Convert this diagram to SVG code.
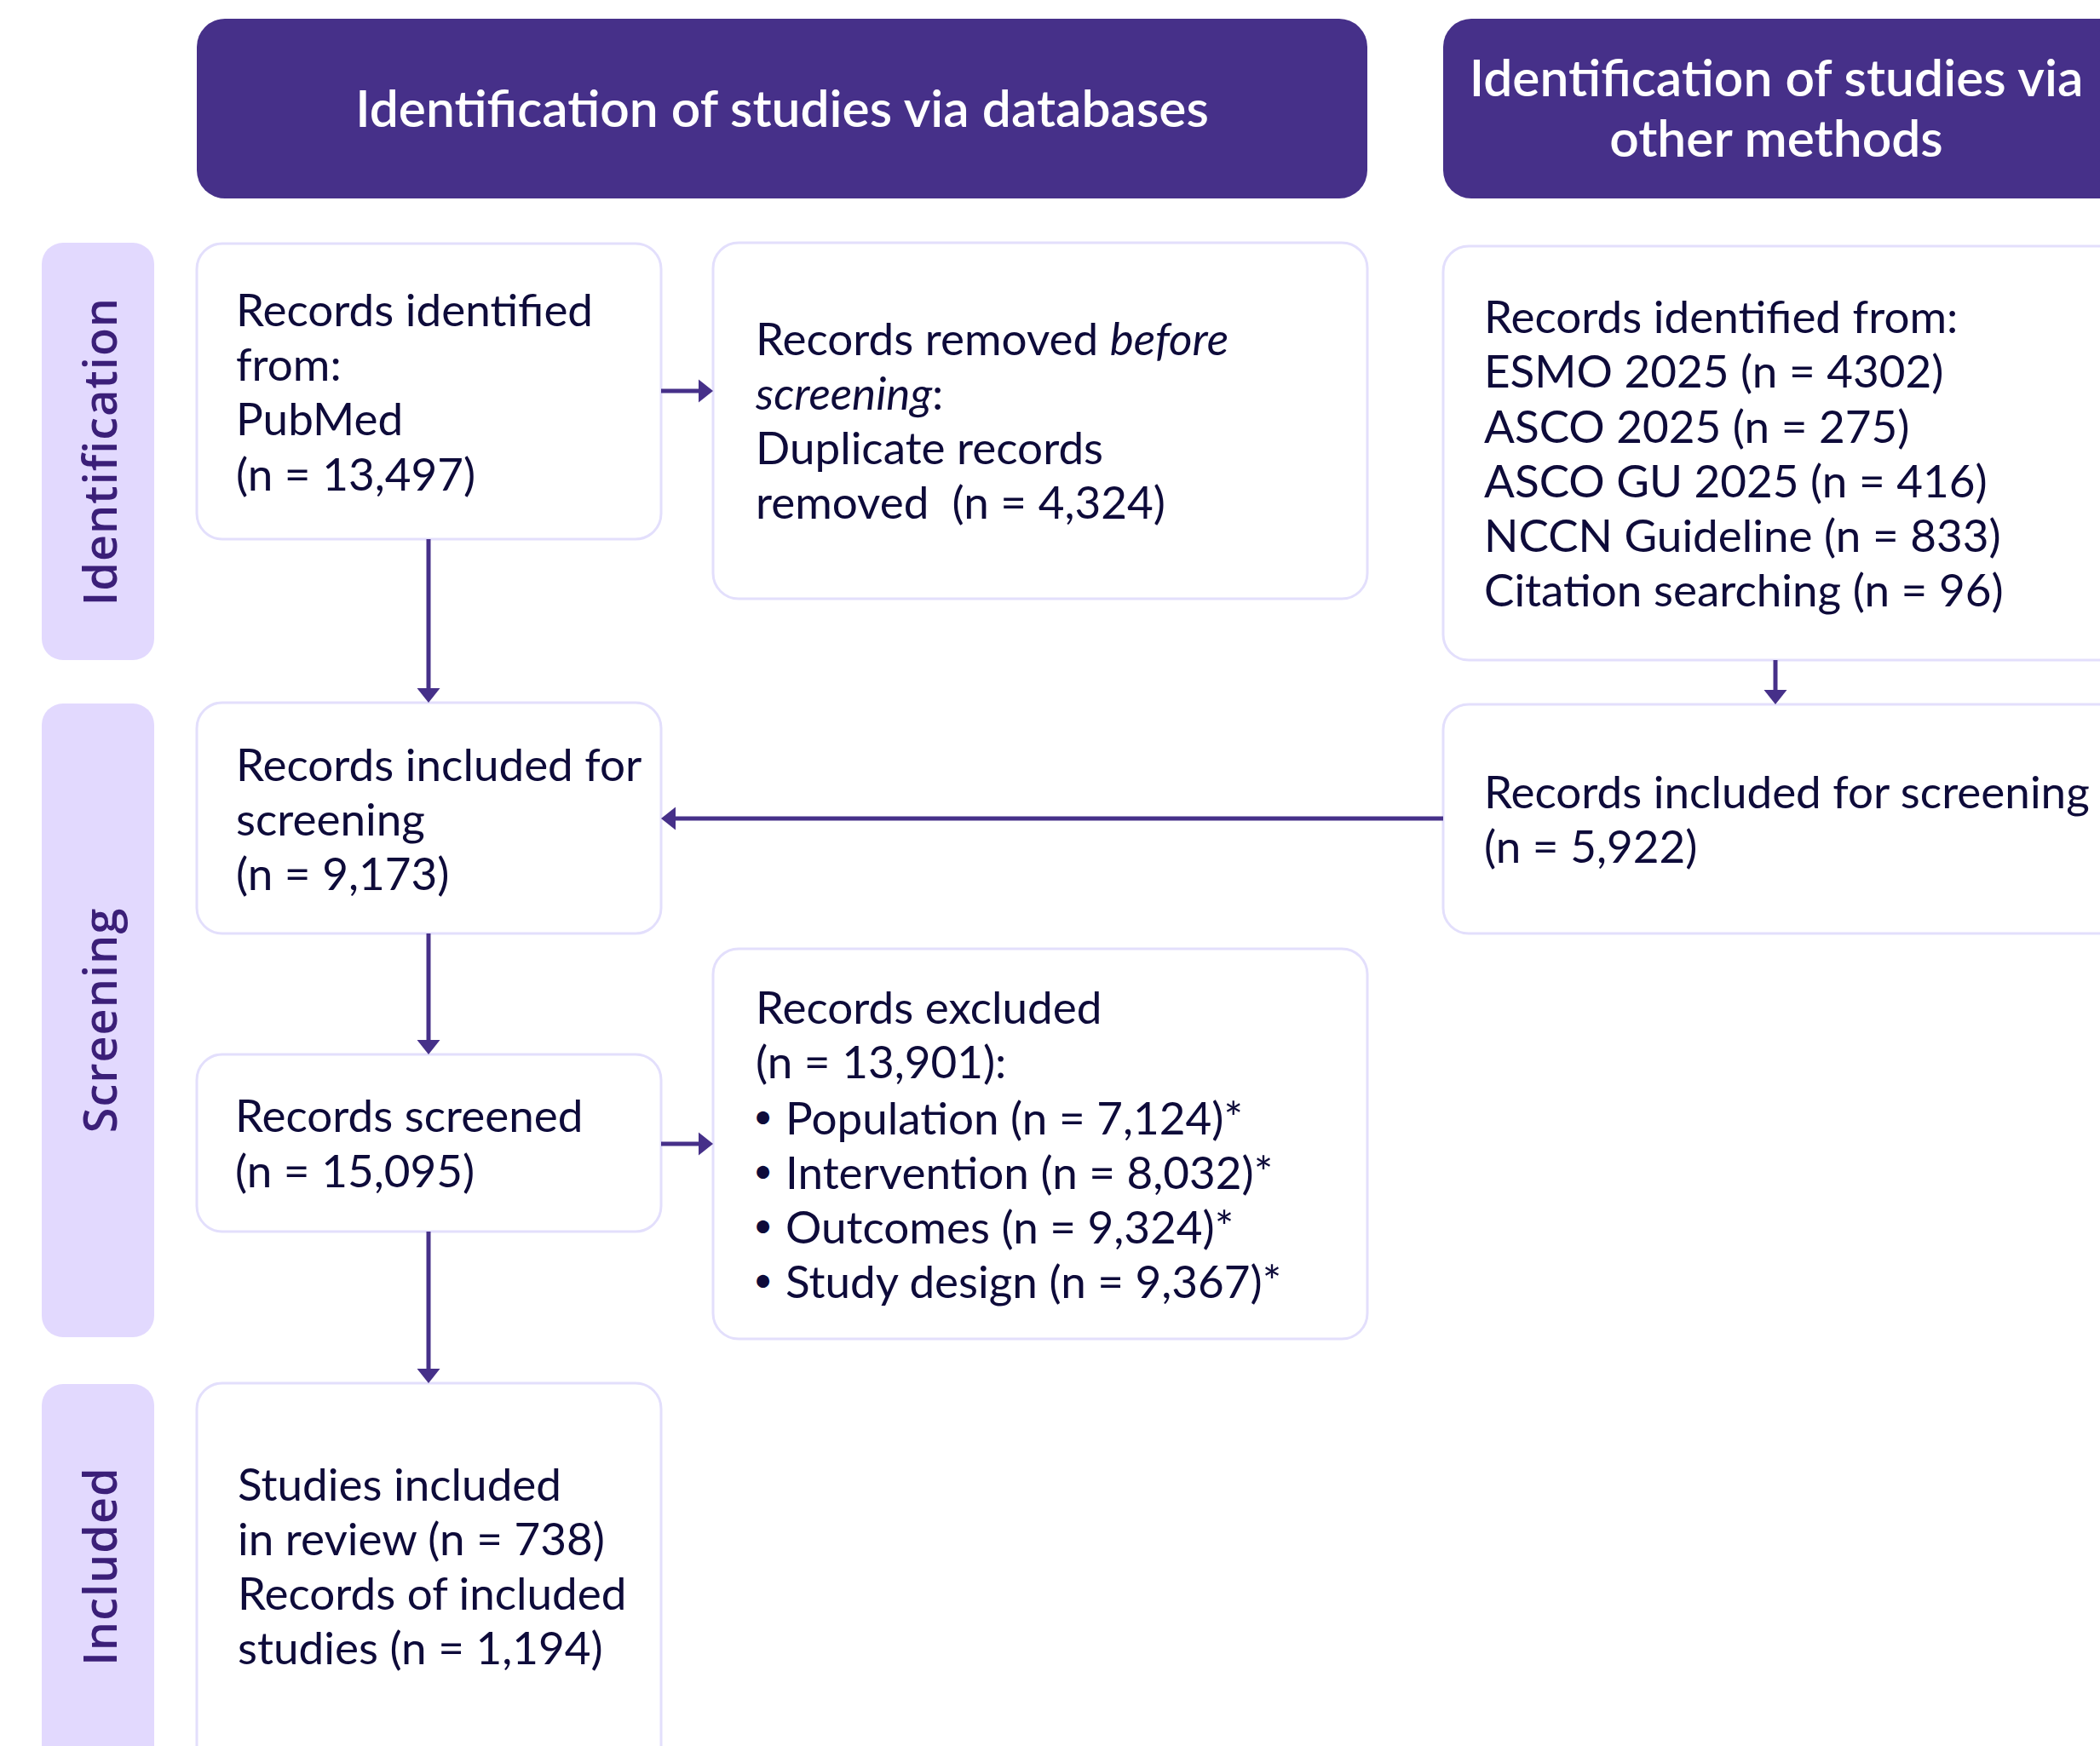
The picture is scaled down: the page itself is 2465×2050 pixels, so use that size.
<svg xmlns="http://www.w3.org/2000/svg" width="2465" height="2050" viewBox="0 0 2465 2050">
  <style>
    .hdr { fill: #463089; }
    .hdrtxt { font-family: "Lato", "Open Sans", sans-serif; font-size: 60.5px; font-weight: 600; fill: #ffffff; text-anchor: middle; }
    .lane { fill: #e2d9fe; }
    .lanetxt { font-family: "Open Sans", "Noto Sans", sans-serif; font-size: 54px; font-weight: 600; fill: #3b1f78; text-anchor: middle; letter-spacing: 1px; }
    .box { fill: #ffffff; stroke: #e3dffc; stroke-width: 3; }
    .txt { font-family: "Lato", "Open Sans", sans-serif; font-size: 53px; fill: #0e0b3a; white-space: pre; }
    .bul { font-size: 40px; }
    .conn { stroke: #463089; stroke-width: 5; fill: none; }
  </style>
  <defs>
    <marker id="ah" markerUnits="userSpaceOnUse" markerWidth="18" markerHeight="28" refX="0" refY="13.5" orient="auto" viewBox="0 0 18 27">
      <path d="M0,0 L17,13.5 L0,27 Z" fill="#463089"/>
    </marker>
  </defs>
  <rect x="0" y="0" width="2465" height="2050" fill="#ffffff"/>

  <g id="header-databases">
    <rect class="hdr" x="231" y="22" width="1374" height="211" rx="33" ry="33"/>
    <text class="hdrtxt" x="918" y="149">Identification of studies via databases</text>
  </g>
  <g id="header-other">
    <rect class="hdr" x="1694" y="22" width="820" height="211" rx="33" ry="33"/>
    <text class="hdrtxt" x="2085" y="113">Identification of studies via</text>
    <text class="hdrtxt" x="2085" y="184">other methods</text>
  </g>

  <g id="lane-identification">
    <rect class="lane" x="49" y="285" width="132" height="490" rx="25" ry="25"/>
    <text class="lanetxt" transform="translate(137,530) rotate(-90)" x="0" y="0">Identification</text>
  </g>
  <g id="lane-screening">
    <rect class="lane" x="49" y="826" width="132" height="744" rx="25" ry="25"/>
    <text class="lanetxt" transform="translate(137,1198) rotate(-90)" x="0" y="0">Screening</text>
  </g>
  <g id="lane-included">
    <rect class="lane" x="49" y="1625" width="132" height="460" rx="25" ry="25"/>
    <text class="lanetxt" transform="translate(137,1839) rotate(-90)" x="0" y="0">Included</text>
  </g>

  <g id="box-pubmed">
    <rect class="box" x="231" y="286" width="545" height="347" rx="30" ry="30"/>
    <text class="txt" x="277" y="383">Records identified</text>
    <text class="txt" x="277" y="447">from:</text>
    <text class="txt" x="277" y="511">PubMed</text>
    <text class="txt" x="277" y="576">(n = 13,497)</text>
  </g>
  <g id="box-removed">
    <rect class="box" x="837" y="285" width="768" height="418" rx="30" ry="30"/>
    <text class="txt" x="887" y="417">Records removed <tspan font-style="italic">before</tspan></text>
    <text class="txt" x="887" y="481"><tspan font-style="italic">screening</tspan>:</text>
    <text class="txt" x="887" y="545">Duplicate records</text>
    <text class="txt" x="887" y="609">removed&#160; (n = 4,324)</text>
  </g>
  <g id="box-other-identified">
    <rect class="box" x="1694" y="289" width="820" height="486" rx="30" ry="30"/>
    <text class="txt" x="1742" y="391">Records identified from:</text>
    <text class="txt" x="1742" y="455">ESMO 2025 (n = 4302)</text>
    <text class="txt" x="1742" y="520">ASCO 2025 (n = 275)</text>
    <text class="txt" x="1742" y="584">ASCO GU 2025 (n = 416)</text>
    <text class="txt" x="1742" y="648">NCCN Guideline (n = 833)</text>
    <text class="txt" x="1742" y="712">Citation searching (n = 96)</text>
  </g>
  <g id="box-other-included">
    <rect class="box" x="1694" y="827" width="820" height="269" rx="30" ry="30"/>
    <text class="txt" x="1742" y="949">Records included for screening</text>
    <text class="txt" x="1742" y="1013">(n = 5,922)</text>
  </g>
  <g id="box-db-included">
    <rect class="box" x="231" y="825" width="545" height="271" rx="30" ry="30"/>
    <text class="txt" x="277" y="917">Records included for</text>
    <text class="txt" x="277" y="981">screening</text>
    <text class="txt" x="277" y="1045">(n = 9,173)</text>
  </g>
  <g id="box-screened">
    <rect class="box" x="231" y="1238" width="545" height="208" rx="30" ry="30"/>
    <text class="txt" x="276" y="1329">Records screened</text>
    <text class="txt" x="276" y="1394">(n = 15,095)</text>
  </g>
  <g id="box-excluded">
    <rect class="box" x="837" y="1114" width="768" height="458" rx="30" ry="30"/>
    <text class="txt" x="887" y="1202">Records excluded</text>
    <text class="txt" x="887" y="1266">(n = 13,901):</text>
    <text class="txt" x="884" y="1332"><tspan class="bul" dy="-7">•</tspan><tspan x="922" dy="7">Population (n = 7,124)*</tspan></text>
    <text class="txt" x="884" y="1396"><tspan class="bul" dy="-7">•</tspan><tspan x="922" dy="7">Intervention (n = 8,032)*</tspan></text>
    <text class="txt" x="884" y="1460"><tspan class="bul" dy="-7">•</tspan><tspan x="922" dy="7">Outcomes (n = 9,324)*</tspan></text>
    <text class="txt" x="884" y="1524"><tspan class="bul" dy="-7">•</tspan><tspan x="922" dy="7">Study design (n = 9,367)*</tspan></text>
  </g>
  <g id="box-included">
    <rect class="box" x="231" y="1624" width="545" height="460" rx="30" ry="30"/>
    <text class="txt" x="279" y="1762">Studies included</text>
    <text class="txt" x="279" y="1826">in review (n = 738)</text>
    <text class="txt" x="279" y="1890">Records of included</text>
    <text class="txt" x="279" y="1954">studies (n = 1,194)</text>
  </g>

  <g id="connectors">
    <line class="conn" x1="776" y1="459" x2="820" y2="459" marker-end="url(#ah)"/>
    <line class="conn" x1="503" y1="633" x2="503" y2="808" marker-end="url(#ah)"/>
    <line class="conn" x1="2084" y1="775" x2="2084" y2="810" marker-end="url(#ah)"/>
    <line class="conn" x1="1694" y1="961" x2="793" y2="961" marker-end="url(#ah)"/>
    <line class="conn" x1="503" y1="1096" x2="503" y2="1221" marker-end="url(#ah)"/>
    <line class="conn" x1="776" y1="1343" x2="820" y2="1343" marker-end="url(#ah)"/>
    <line class="conn" x1="503" y1="1446" x2="503" y2="1607" marker-end="url(#ah)"/>
  </g>
</svg>
